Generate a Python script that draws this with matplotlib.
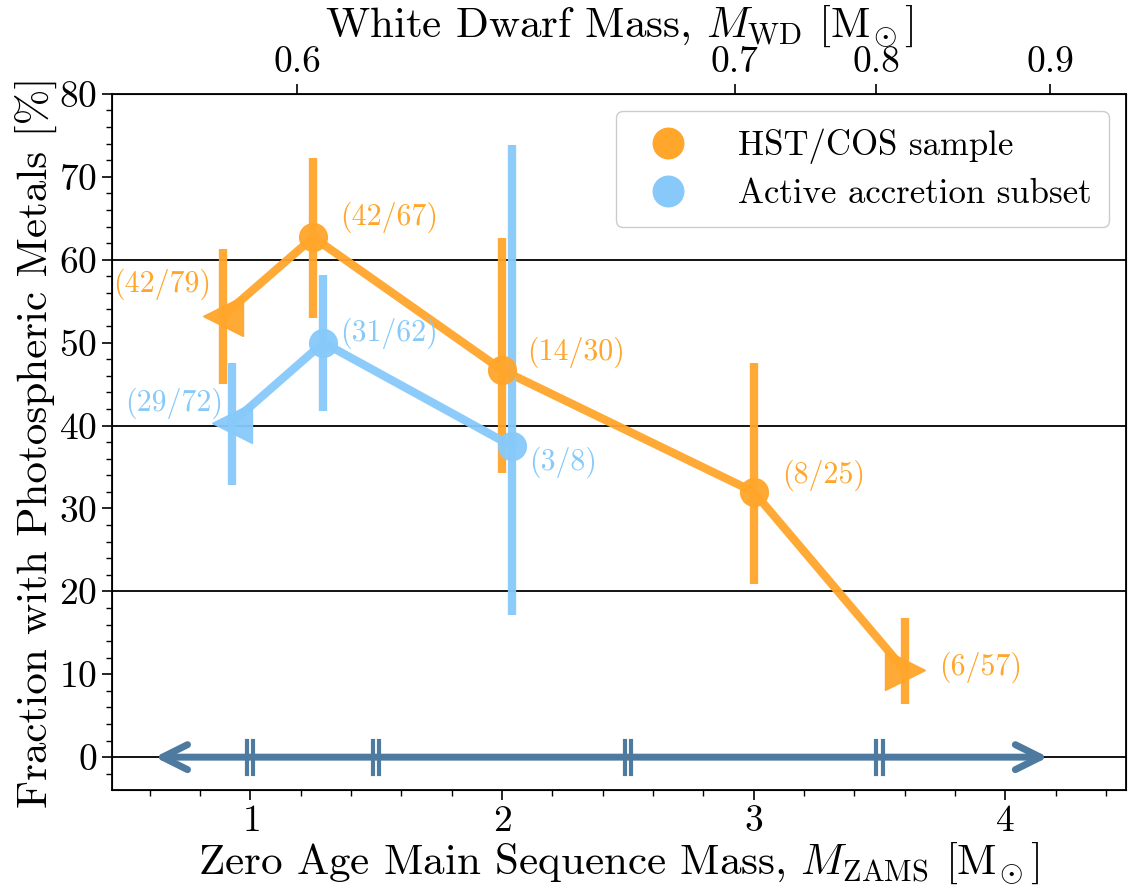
import numpy as np
import matplotlib
matplotlib.use("Agg")
import matplotlib.pyplot as plt

plt.rcParams['font.family'] = 'serif'
plt.rcParams['font.serif'] = ['cmr10']
plt.rcParams['mathtext.fontset'] = 'cm'
plt.rcParams['axes.formatter.use_mathtext'] = True

# HST/COS sample
hst_x = [0.89, 1.25, 2.0, 3.0, 3.6]
hst_y = [53.2, 62.7, 46.7, 32.0, 10.5]
hst_lo = [45.0, 53.0, 34.3, 20.9, 6.4]
hst_hi = [61.3, 72.3, 62.6, 47.6, 16.8]
hst_lab = ['(42/79)', '(42/67)', '(14/30)', '(8/25)', '(6/57)']
hst_mk = ['<', 'o', 'o', 'o', '>']

# active accretion subset
act_x = [0.925, 1.29, 2.04]
act_y = [40.3, 50.0, 37.5]
act_lo = [32.8, 41.7, 17.1]
act_hi = [47.5, 58.1, 73.8]
act_lab = ['(29/72)', '(31/62)', '(3/8)']
act_mk = ['<', 'o', 'o']

# bin edges for the mass bins and arrow extent
bin_edges = [1.0, 1.5, 2.5, 3.5]
arrow_span = [0.62, 4.17]

# white dwarf mass ticks (placed at the corresponding ZAMS mass)
wd_pos = [1.187, 2.925, 3.488, 4.179]
wd_lab = ['0.6', '0.7', '0.8', '0.9']

orange = '#ffa62b'
blue = '#87cafa'
arrow_c = '#4e7aa0'

fig = plt.figure(figsize=(11.28, 8.86), dpi=100)
ax = fig.add_axes([0.0993, 0.108, 0.899, 0.786])

for yy in [0, 20, 40, 60]:
    ax.axhline(yy, color='k', lw=1.3, zorder=1)

def draw(xs, ys, lo, hi, mk, col, lab):
    ax.plot(xs, ys, color=col, lw=6, alpha=0.95, zorder=3)
    err = [np.array(ys) - np.array(lo), np.array(hi) - np.array(ys)]
    ax.errorbar(xs, ys, yerr=err, fmt='none', ecolor=col, elinewidth=6,
                alpha=0.95, zorder=3)
    for x, y, m in zip(xs, ys, mk):
        ms = 20 if m == 'o' else 29
        ax.plot([x], [y], marker=m, ms=ms, color=col, ls='none', alpha=0.95,
                zorder=4)
    ax.plot([], [], 'o', ms=22, color=col, label=lab)

draw(hst_x, hst_y, hst_lo, hst_hi, hst_mk, orange, 'HST/COS sample')
draw(act_x, act_y, act_lo, act_hi, act_mk, blue, 'Active accretion subset')

hst_off = [(-12, 32, 'right'), (27, 20, 'left'), (25, 18, 'left'),
           (28, 17, 'left'), (34, 3, 'left')]
act_off = [(-8, 20, 'right'), (17, 9, 'left'), (17, -16, 'left')]
for x, y, t, (dx, dy, ha) in zip(hst_x, hst_y, hst_lab, hst_off):
    ax.annotate(t, (x, y), xytext=(dx, dy), textcoords='offset pixels',
                ha=ha, va='center', color=orange, fontsize=21.5)
for x, y, t, (dx, dy, ha) in zip(act_x, act_y, act_lab, act_off):
    ax.annotate(t, (x, y), xytext=(dx, dy), textcoords='offset pixels',
                ha=ha, va='center', color=blue, fontsize=21.5)

# mass bin arrow
ax.annotate('', xy=(arrow_span[0], 0), xytext=(arrow_span[1], 0),
            arrowprops=dict(arrowstyle='<->', color=arrow_c, lw=5,
                            mutation_scale=45, shrinkA=0, shrinkB=0),
            zorder=5)
for e in bin_edges:
    for dx in (-0.012, 0.012):
        ax.plot([e + dx, e + dx], [-2.0, 2.0], color=arrow_c, lw=3, zorder=5)

ax.set_xlim(0.45, 4.48)
ax.set_ylim(-4, 80)
ax.set_xticks([1, 2, 3, 4])
ax.set_xticks(np.arange(0.6, 4.5, 0.2), minor=True)
ax.set_yticks(np.arange(0, 81, 10))
ax.set_yticks(np.arange(-2, 81, 2), minor=True)
ax.tick_params(which='major', labelsize=27, length=7, width=1.2)
ax.tick_params(which='minor', length=4, width=1)
ax.set_xlabel(r'Zero Age Main Sequence Mass, $M_{\rm ZAMS}$ [M$_{\!\odot}$]',
              fontsize=31, labelpad=2)
ax.set_ylabel('Fraction with Photospheric Metals [%]', fontsize=31, labelpad=2)
for s in ax.spines.values():
    s.set_linewidth(1.3)

leg = ax.legend(loc='upper right', fontsize=25, handlelength=2.0,
                handletextpad=1.0, borderpad=0.5, labelspacing=0.4,
                fancybox=True, framealpha=1, edgecolor='#cccccc',
                borderaxespad=0.5)

top = ax.twiny()
top.set_xlim(ax.get_xlim())
top.set_xticks(wd_pos)
top.set_xticklabels(wd_lab)
top.tick_params(labelsize=27, length=7, width=1.2)
top.set_xlabel(r'White Dwarf Mass, $M_{\rm WD}$ [M$_{\!\odot}$]', fontsize=31,
               labelpad=7)

fig.savefig('out.png', dpi=100)
